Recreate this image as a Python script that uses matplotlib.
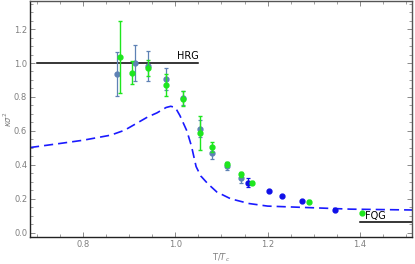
import numpy as np
import matplotlib
matplotlib.use('Agg')
import matplotlib.pyplot as plt
from matplotlib.ticker import MultipleLocator

# dashed model curve
curve_x = [0.685, 0.75, 0.80, 0.86, 0.89, 0.94, 0.96, 0.98, 0.99, 1.00, 1.01, 1.025,
           1.035, 1.045, 1.055, 1.07, 1.09, 1.12, 1.16, 1.20, 1.25, 1.30, 1.38, 1.515]
curve_y = [0.502, 0.526, 0.545, 0.575, 0.604, 0.682, 0.706, 0.738, 0.745, 0.738, 0.69, 0.60,
           0.51, 0.39, 0.335, 0.29, 0.24, 0.20, 0.172, 0.157, 0.152, 0.147, 0.139, 0.134]

# lattice set 1 (steel blue)
s_x = [0.873, 0.913, 0.941, 0.980, 1.017, 1.054, 1.079, 1.111, 1.142]
s_y = [0.934, 1.002, 0.982, 0.908, 0.794, 0.614, 0.467, 0.392, 0.320]
s_err = [0.13, 0.107, 0.09, 0.065, 0.04, 0.05, 0.03, 0.025, 0.025]

# lattice set 2 (green)
g_x = [0.879, 0.907, 0.941, 0.979, 1.017, 1.054, 1.079, 1.111, 1.142, 1.167, 1.290, 1.404]
g_y = [1.035, 0.943, 0.973, 0.869, 0.790, 0.585, 0.506, 0.404, 0.345, 0.296, 0.183, 0.114]
g_err = [0.21, 0.068, 0.047, 0.065, 0.045, 0.10, 0.03, 0.015, 0.015, 0.01, 0.01, 0.0]

# lattice set 3 (blue)
b_x = [1.158, 1.202, 1.232, 1.274, 1.346]
b_y = [0.296, 0.245, 0.216, 0.186, 0.134]
b_err = [0.025, 0.0, 0.0, 0.0, 0.0]

hrg_x = [0.70, 1.05]
hrg_y = [1.0, 1.0]
fqg_x = [1.40, 1.52]
fqg_y = [0.065, 0.065]

fig = plt.figure(figsize=(4.15, 2.64), dpi=100)
ax = fig.add_axes([0.0723, 0.1023, 0.9205, 0.8937])

ax.plot(curve_x, curve_y, color='#1a1aff', lw=1.2, dashes=(5.5, 3), zorder=2)
ax.plot(hrg_x, hrg_y, color='black', lw=1.1, zorder=2)
ax.plot(fqg_x, fqg_y, color='black', lw=1.1, zorder=2)

ax.errorbar(s_x, s_y, yerr=s_err, fmt='o', color='#5e81b5', ms=3.5, elinewidth=0.9,
            capsize=1.5, capthick=0.9, zorder=3)
ax.errorbar(g_x, g_y, yerr=g_err, fmt='o', color='#1ee61e', ms=3.5, elinewidth=1.0,
            capsize=1.5, capthick=1.0, zorder=4)
ax.errorbar(b_x, b_y, yerr=b_err, fmt='o', color='#1010e8', ms=3.5, elinewidth=0.9,
            capsize=1.5, capthick=0.9, zorder=3)

ax.text(1.05, 1.012, 'HRG', ha='right', va='bottom', fontsize=7)
ax.text(1.412, 0.098, 'FQG', ha='left', va='center', fontsize=7)

ax.set_xlim(0.685, 1.513)
ax.set_ylim(-0.025, 1.365)
ax.xaxis.set_major_locator(MultipleLocator(0.2))
ax.xaxis.set_minor_locator(MultipleLocator(0.05))
ax.yaxis.set_major_locator(MultipleLocator(0.2))
ax.yaxis.set_minor_locator(MultipleLocator(0.05))
ax.xaxis.set_major_formatter(plt.FormatStrFormatter('%.1f'))
ax.yaxis.set_major_formatter(plt.FormatStrFormatter('%.1f'))
ax.tick_params(which='both', direction='in', top=True, right=True,
               labelsize=6, labelcolor='#7f7f7f', color='#777777', pad=2)
ax.tick_params(which='major', length=3.5, width=0.6)
ax.tick_params(which='minor', length=2, width=0.5)
for s in ax.spines.values():
    s.set_color('#555555')
    s.set_linewidth(1.0)
ax.spines['left'].set_color('#222222')
ax.spines['bottom'].set_color('#222222')

ax.set_xlabel('T/$T_c$', fontsize=6, color='#7f7f7f', va='center')
ax.set_ylabel(r'$\kappa\sigma^2$', fontsize=6, color='#7f7f7f', va='center')
ax.xaxis.set_label_coords(0.5, -0.089)
ax.yaxis.set_label_coords(-0.057, 0.5)

fig.savefig('out.png', dpi=100)
